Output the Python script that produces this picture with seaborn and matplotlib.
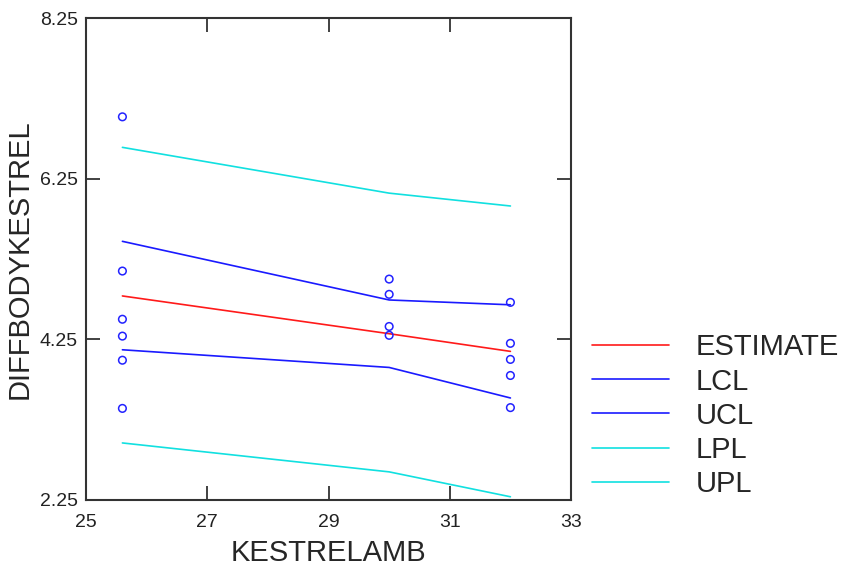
import pandas as pd
import seaborn as sns
import matplotlib.pyplot as plt

# fitted values at each distinct KESTRELAMB
x_fit = [25.6, 30, 32]
estimate = [4.79, 4.32, 4.10]
lcl = [4.12, 3.90, 3.52]
ucl = [5.47, 4.74, 4.68]
lpl = [2.96, 2.60, 2.29]
upl = [6.64, 6.07, 5.91]

# observed points
x_obs = [25.6] * 6 + [30] * 4 + [32] * 5
y_obs = [7.02, 5.10, 4.50, 4.29, 3.99, 3.39,
         5.00, 4.81, 4.41, 4.30,
         4.71, 4.20, 4.00, 3.80, 3.40]

xticks = [25, 27, 29, 31, 33]
yticks = [2.25, 4.25, 6.25, 8.25]

sns.set_style("white")
plt.rcParams['font.family'] = ['Liberation Sans', 'DejaVu Sans']

fig = plt.figure(figsize=(8.41, 5.67), dpi=100)
ax = fig.add_axes([0.1023, 0.1182, 0.5767, 0.850])

obs = pd.DataFrame({"KESTRELAMB": x_obs, "DIFFBODYKESTREL": y_obs})
sns.scatterplot(data=obs, x="KESTRELAMB", y="DIFFBODYKESTREL", ax=ax,
                marker="o", s=30, facecolors="none", edgecolor="#2222ff",
                linewidth=1.1, zorder=3)

lines = [("ESTIMATE", estimate, "#ff1a1a"),
         ("LCL", lcl, "#1a1aff"),
         ("UCL", ucl, "#1a1aff"),
         ("LPL", lpl, "#11e0e0"),
         ("UPL", upl, "#11e0e0")]
handles = []
for name, vals, col in lines:
    sns.lineplot(x=x_fit, y=vals, color=col, linewidth=1.2, ax=ax, label=name)
    handles.append(ax.get_lines()[-1])
ax.get_legend().remove()

ax.set_xlim(25, 33)
ax.set_ylim(2.25, 8.25)
ax.set_xticks(xticks)
ax.set_yticks(yticks)
ax.set_xticklabels([str(t) for t in xticks])
ax.set_yticklabels(["%.2f" % t for t in yticks])
ax.tick_params(direction="in", length=10, width=1.3, color="#333333",
               labelsize=14, labelcolor="#222222", pad=6,
               top=True, right=True, bottom=True, left=True)
ax.tick_params(axis="x", pad=10)
for s in ax.spines.values():
    s.set_linewidth(1.5)
    s.set_color("#333333")

ax.set_xlabel("KESTRELAMB", fontsize=21, labelpad=6)
ax.set_ylabel("DIFFBODYKESTREL", fontsize=21, labelpad=4)

fig.legend(handles=handles, labels=[l[0] for l in lines],
           loc="upper left", bbox_to_anchor=(0.704, 0.412),
           frameon=False, fontsize=21, handlelength=2.64,
           handletextpad=0.9, labelspacing=0.21, borderpad=0,
           borderaxespad=0)

fig.savefig("out.png", dpi=100)
